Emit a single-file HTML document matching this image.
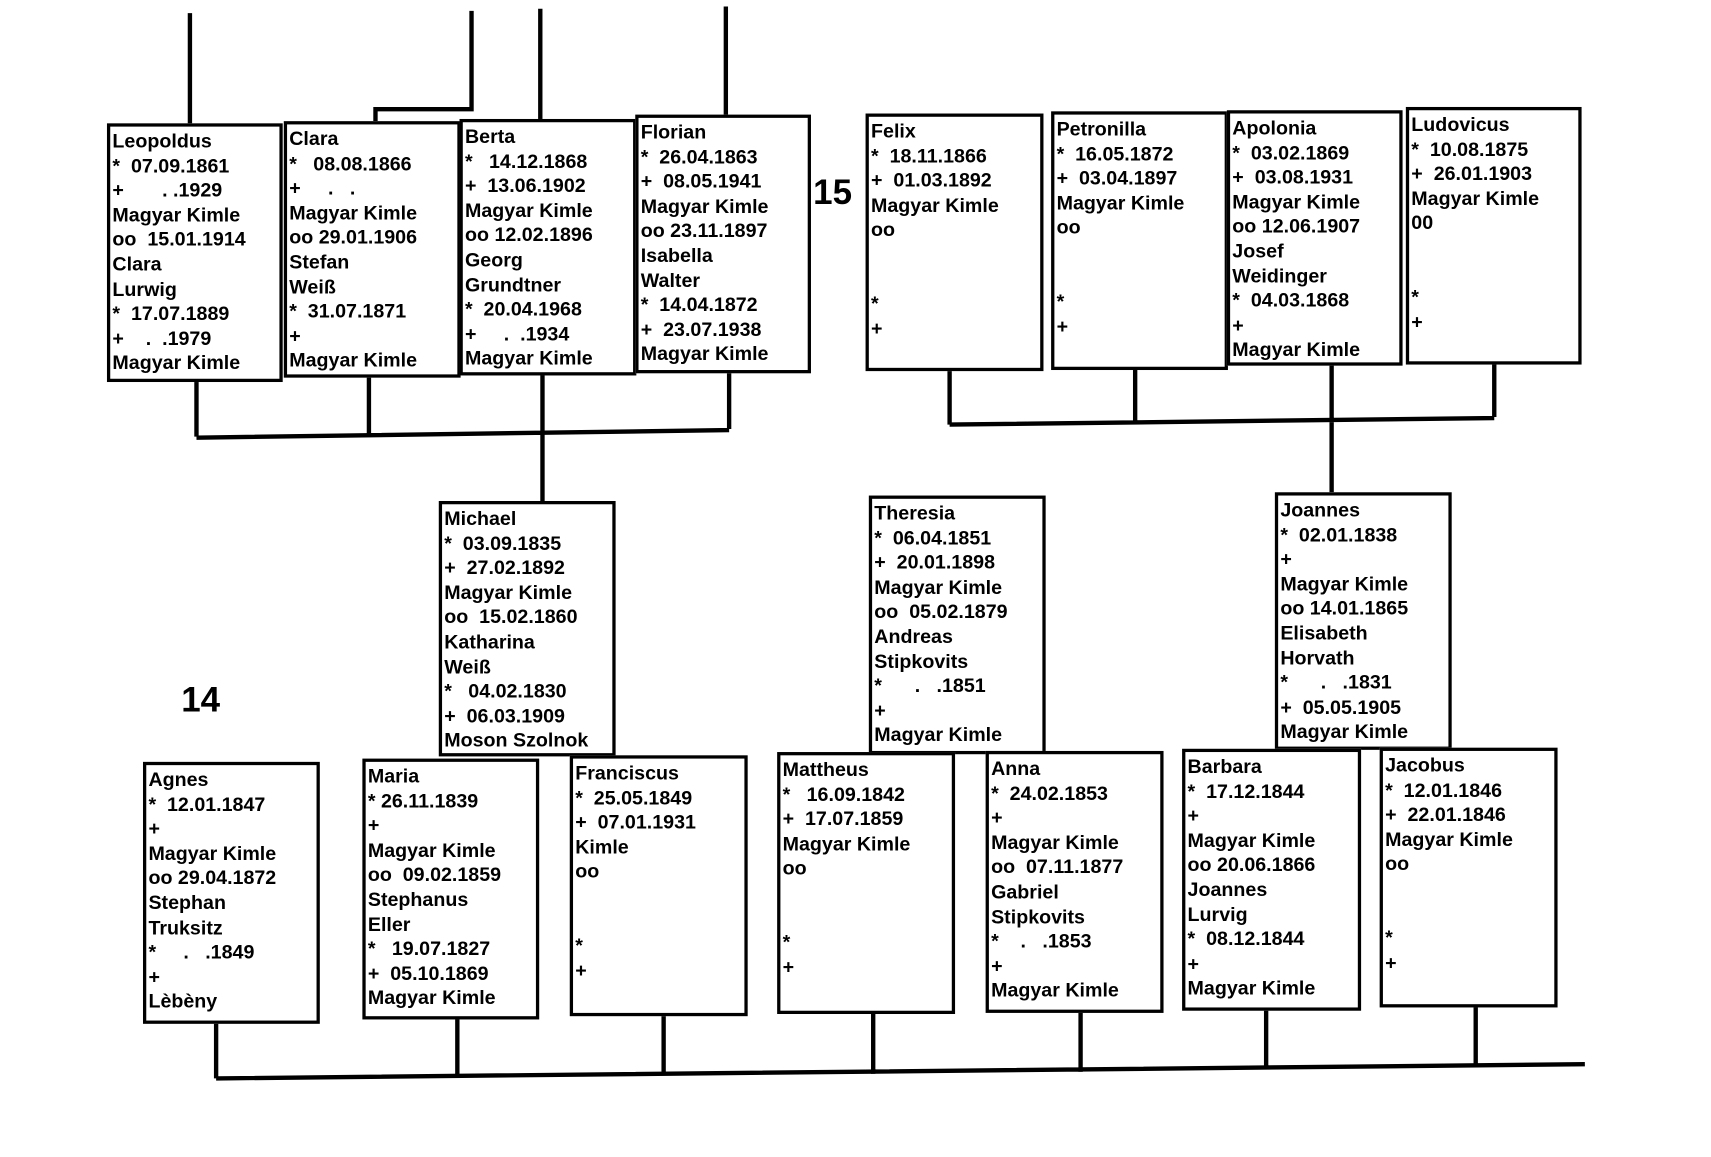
<!DOCTYPE html>
<html><head><meta charset="utf-8"><style>
html,body{margin:0;padding:0;background:#fff;width:1711px;height:1157px;overflow:hidden}
#w{position:absolute;left:0;top:0;width:1560px;height:1055px;transform:scale(1.0915);transform-origin:0 0}
.b{position:absolute;border:3px solid #000;box-sizing:border-box;background:#fff;font:bold 18px/22.6px "Liberation Sans",sans-serif;white-space:pre;padding:2px 0 0 2px;color:#000;overflow:hidden}
.n{position:absolute;font:bold 32px "Liberation Sans",sans-serif}
svg{position:absolute;left:0;top:0}
</style></head><body><div id="w">
<svg width="1560" height="1055" stroke="#000" stroke-width="4" fill="none">
<path d="M174 12V113M432 10V100H344V111M495 8V109M665 6V105"/>
<path d="M180 349V400M338 345V398M497 343V459M668 341V393M180 401L668 394"/>
<path d="M870 339V389M1040 338V386M1220 334V451M1369 333V382M870 389L1369 383"/>
<path d="M198 937V988M419 933V987M608 930V985M800 928V984M990 927V982M1160 925V980M1352 922V977M198 988L1452 975"/>
</svg>
<div class="n" style="left:745px;top:158px">15</div>
<div class="n" style="left:166px;top:623px">14</div>
<div class="b" style="left:98px;top:113px;width:161px;height:237px">Leopoldus
*  07.09.1861
+       . .1929
Magyar Kimle
oo  15.01.1914
Clara
Lurwig
*  17.07.1889
+    .  .1979
Magyar Kimle</div>
<div class="b" style="left:260px;top:111px;width:162px;height:235px">Clara
*   08.08.1866
+     .   .
Magyar Kimle
oo 29.01.1906
Stefan
Weiß
*  31.07.1871
+
Magyar Kimle</div>
<div class="b" style="left:421px;top:109px;width:162px;height:235px">Berta
*   14.12.1868
+  13.06.1902
Magyar Kimle
oo 12.02.1896
Georg
Grundtner
*  20.04.1968
+     .  .1934
Magyar Kimle</div>
<div class="b" style="left:582px;top:105px;width:161px;height:237px">Florian
*  26.04.1863
+  08.05.1941
Magyar Kimle
oo 23.11.1897
Isabella
Walter
*  14.04.1872
+  23.07.1938
Magyar Kimle</div>
<div class="b" style="left:793px;top:104px;width:163px;height:236px">Felix
*  18.11.1866
+  01.03.1892
Magyar Kimle
oo


*
+</div>
<div class="b" style="left:963px;top:102px;width:162px;height:237px">Petronilla
*  16.05.1872
+  03.04.1897
Magyar Kimle
oo


*
+</div>
<div class="b" style="left:1124px;top:101px;width:161px;height:234px">Apolonia
*  03.02.1869
+  03.08.1931
Magyar Kimle
oo 12.06.1907
Josef
Weidinger
*  04.03.1868
+
Magyar Kimle</div>
<div class="b" style="left:1288px;top:98px;width:161px;height:236px">Ludovicus
*  10.08.1875
+  26.01.1903
Magyar Kimle
00


*
+</div>
<div class="b" style="left:402px;top:459px;width:162px;height:234px">Michael
*  03.09.1835
+  27.02.1892
Magyar Kimle
oo  15.02.1860
Katharina
Weiß
*   04.02.1830
+  06.03.1909
Moson Szolnok</div>
<div class="b" style="left:796px;top:454px;width:162px;height:237px">Theresia
*  06.04.1851
+  20.01.1898
Magyar Kimle
oo  05.02.1879
Andreas
Stipkovits
*      .   .1851
+
Magyar Kimle</div>
<div class="b" style="left:1168px;top:451px;width:162px;height:236px">Joannes
*  02.01.1838
+
Magyar Kimle
oo 14.01.1865
Elisabeth
Horvath
*      .   .1831
+  05.05.1905
Magyar Kimle</div>
<div class="b" style="left:131px;top:698px;width:162px;height:240px">Agnes
*  12.01.1847
+
Magyar Kimle
oo 29.04.1872
Stephan
Truksitz
*     .   .1849
+
Lèbèny</div>
<div class="b" style="left:332px;top:695px;width:162px;height:239px">Maria
* 26.11.1839
+
Magyar Kimle
oo  09.02.1859
Stephanus
Eller
*   19.07.1827
+  05.10.1869
Magyar Kimle</div>
<div class="b" style="left:522px;top:692px;width:163px;height:239px">Franciscus
*  25.05.1849
+  07.01.1931
Kimle
oo


*
+</div>
<div class="b" style="left:712px;top:689px;width:163px;height:240px">Mattheus
*   16.09.1842
+  17.07.1859
Magyar Kimle
oo


*
+</div>
<div class="b" style="left:903px;top:688px;width:163px;height:240px">Anna
*  24.02.1853
+
Magyar Kimle
oo  07.11.1877
Gabriel
Stipkovits
*    .   .1853
+
Magyar Kimle</div>
<div class="b" style="left:1083px;top:686px;width:164px;height:240px">Barbara
*  17.12.1844
+
Magyar Kimle
oo 20.06.1866
Joannes
Lurvig
*  08.12.1844
+
Magyar Kimle</div>
<div class="b" style="left:1264px;top:685px;width:163px;height:238px">Jacobus
*  12.01.1846
+  22.01.1846
Magyar Kimle
oo


*
+</div>
</div></body></html>
